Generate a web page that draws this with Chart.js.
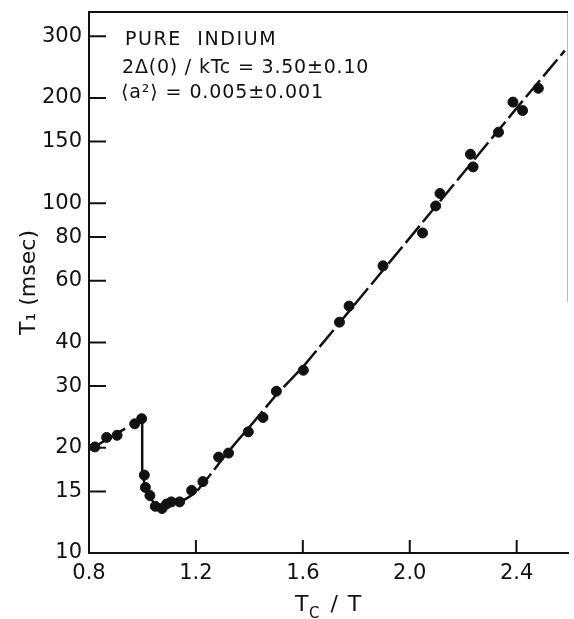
<!DOCTYPE html>
<html>
<head>
<meta charset="utf-8">
<script src="https://cdn.jsdelivr.net/npm/chart.js@4/dist/chart.umd.min.js"></script>
<style>
  html, body { margin: 0; padding: 0; background: #fff; overflow: hidden; }
  canvas { display: block; }
</style>
</head>
<body>
<canvas id="chart" width="574" height="619"></canvas>
<script>
// tick labels
const xTicks = [0.8, 1.2, 1.6, 2.0, 2.4];
const yTicks = [10, 15, 20, 30, 40, 60, 80, 100, 150, 200, 300];

const ptX = [0.822, 0.866, 0.905, 0.971, 0.997, 1.007, 1.011, 1.028, 1.048, 1.073, 1.090,
             1.108, 1.139, 1.184, 1.226, 1.285, 1.322, 1.396, 1.451, 1.501, 1.602, 1.737,
             1.773, 1.900, 2.048, 2.097, 2.113, 2.227, 2.237, 2.332, 2.386, 2.422, 2.481];
const ptY = [20.1, 21.4, 21.7, 23.4, 24.2, 16.7, 15.4, 14.6, 13.6, 13.4, 13.8,
             14.0, 14.0, 15.1, 16.0, 18.8, 19.3, 22.2, 24.4, 29.0, 33.3, 45.7,
             50.8, 66.2, 82.2, 98.2, 106.6, 138, 127, 159.6, 194.5, 184, 213];

// fitted curve, normal state part (dashed)
const fitNormX = [0.800, 0.997];
const fitNormY = [19.7, 24.2];
// drop at Tc (solid)
const fitDropX = [0.999, 0.999];
const fitDropY = [23.6, 16.8];
// superconducting part (dashed)
const fitSupX = [1.000, 1.010, 1.025, 1.045, 1.065, 1.085, 1.110, 1.140, 1.170, 1.200,
                 1.250, 1.300, 1.350, 1.400, 1.500, 1.600, 1.800, 2.000, 2.200, 2.400, 2.580];
const fitSupY = [16.8, 15.5, 14.6, 13.8, 13.45, 13.6, 13.8, 13.95, 14.4, 14.9,
                 16.6, 18.6, 20.7, 22.9, 28.3, 34.0, 52, 79.6, 122, 187, 273];

const noteLines = ['PURE  INDIUM', '2\u0394(0) / kTc = 3.50\u00b10.10', '\u27e8a\u00b2\u27e9 = 0.005\u00b10.001'];

const INK = '#111';
const FONT = "'DejaVu Sans'";

function pts(xs, ys) {
  return xs.map((x, i) => ({ x, y: ys[i] }));
}

// inward tick marks, frame lines, notes and x-axis title
const decorPlugin = {
  id: 'decor',
  afterDatasetsDraw(chart) {
    const { ctx, chartArea: a, scales: { x, y } } = chart;
    ctx.save();
    ctx.strokeStyle = '#bbb';
    ctx.lineWidth = 1;
    ctx.beginPath();
    ctx.moveTo(a.right - 0.5, a.top);
    ctx.lineTo(a.right - 0.5, a.top + 290);
    ctx.stroke();

    ctx.strokeStyle = INK;
    ctx.lineWidth = 2;
    ctx.beginPath();
    ctx.moveTo(a.left, a.top);
    ctx.lineTo(a.right, a.top);
    yTicks.forEach(v => {
      const py = y.getPixelForValue(v);
      ctx.moveTo(a.left, py);
      ctx.lineTo(a.left + 17, py);
    });
    xTicks.forEach(v => {
      if (v === xTicks[0]) return;
      const px = x.getPixelForValue(v);
      ctx.moveTo(px, a.bottom);
      ctx.lineTo(px, a.bottom - 13);
    });
    ctx.stroke();

    ctx.fillStyle = INK;
    ctx.textBaseline = 'alphabetic';
    ctx.font = `19px ${FONT}`;
    ctx.letterSpacing = '1.6px';
    ctx.fillText(noteLines[0], 125, 45);
    ctx.letterSpacing = '0.8px';
    ctx.fillText(noteLines[1], 122, 73);
    ctx.letterSpacing = '0.9px';
    ctx.fillText(noteLines[2], 121, 98);

    // x title: T_C / T
    ctx.letterSpacing = '1.5px';
    ctx.font = `22px ${FONT}`;
    let tx = 295;
    ctx.fillText('T', tx, 611);
    tx += ctx.measureText('T').width;
    ctx.font = `15px ${FONT}`;
    ctx.fillText('C', tx - 1, 618);
    tx += ctx.measureText('C').width;
    ctx.font = `22px ${FONT}`;
    ctx.fillText(' / T', tx, 611);
    ctx.restore();
  }
};

new Chart(document.getElementById('chart'), {
  type: 'scatter',
  data: {
    datasets: [
      {
        data: pts(ptX, ptY),
        backgroundColor: INK,
        borderColor: INK,
        pointRadius: 5,
        showLine: false
      },
      {
        data: pts(fitNormX, fitNormY),
        showLine: true, pointRadius: 0,
        borderColor: INK, borderWidth: 2.5, borderDash: [18, 6]
      },
      {
        data: pts(fitDropX, fitDropY),
        showLine: true, pointRadius: 0,
        borderColor: INK, borderWidth: 2.5
      },
      {
        data: pts(fitSupX, fitSupY),
        showLine: true, pointRadius: 0,
        borderColor: INK, borderWidth: 2.5, borderDash: [22, 5]
      }
    ]
  },
  options: {
    responsive: false,
    animation: false,
    devicePixelRatio: 1,
    layout: { padding: { top: 12, right: 1, left: 0, bottom: 0 } },
    plugins: { legend: { display: false }, tooltip: { enabled: false } },
    scales: {
      x: {
        type: 'linear',
        min: 0.8,
        max: 2.592,
        grid: { display: false, drawTicks: false },
        border: { display: true, color: INK, width: 2 },
        afterBuildTicks: s => { s.ticks = xTicks.map(v => ({ value: v })); },
        afterFit: s => { s.height = 66; s.paddingLeft = 0; s.paddingRight = 0; },
        ticks: {
          color: INK, padding: 8,
          font: { family: FONT, size: 21 },
          maxRotation: 0,
          callback: v => v.toFixed(1)
        }
      },
      y: {
        type: 'logarithmic',
        min: 10,
        max: 352,
        grid: { display: false, drawTicks: false },
        border: { display: true, color: INK, width: 2 },
        afterBuildTicks: s => { s.ticks = yTicks.map(v => ({ value: v })); },
        afterFit: s => { s.width = 89; s.paddingTop = 0; s.paddingBottom = 0; },
        ticks: {
          color: INK, padding: 7,
          font: { family: FONT, size: 21 },
          callback: v => String(v)
        },
        title: {
          display: true,
          text: 'T\u2081 (msec)',
          color: INK,
          font: { family: FONT, size: 22 },
          padding: { top: 16, bottom: 0 }
        }
      }
    }
  },
  plugins: [decorPlugin]
});
</script>
</body>
</html>
